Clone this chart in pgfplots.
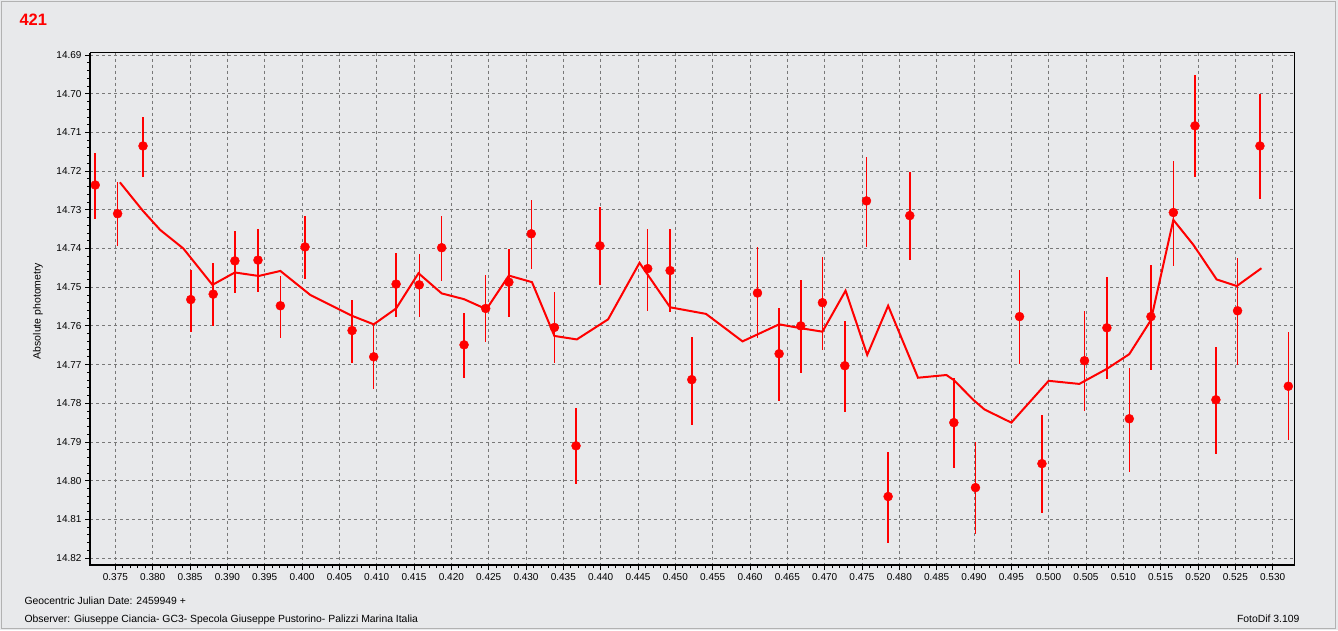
\documentclass[border=0pt]{standalone}
\usepackage{fontspec}
\setmainfont{Liberation Sans}
\usepackage{pgfplots}
\pgfplotsset{compat=1.18}
\usepackage{pgfplotstable}
\definecolor{bg}{RGB}{232,233,235}
\definecolor{gridc}{RGB}{120,120,120}

\pgfplotstableread{
x y ep em
0.3723 14.7236 0.0088 0.0082
0.3753 14.7310 0.0083 0.0082
0.3787 14.7135 0.0080 0.0075
0.3851 14.7532 0.0083 0.0077
0.3881 14.7518 0.0082 0.0080
0.3910 14.7432 0.0082 0.0078
0.3941 14.7430 0.0082 0.0080
0.3971 14.7548 0.0083 0.0077
0.4004 14.7396 0.0083 0.0080
0.4067 14.7612 0.0084 0.0079
0.4096 14.7680 0.0083 0.0085
0.4126 14.7492 0.0084 0.0080
0.4157 14.7494 0.0084 0.0080
0.4187 14.7398 0.0085 0.0082
0.4217 14.7649 0.0086 0.0082
0.4246 14.7555 0.0086 0.0086
0.4277 14.7487 0.0089 0.0086
0.4307 14.7362 0.0092 0.0087
0.4338 14.7604 0.0093 0.0091
0.4367 14.7910 0.0099 0.0097
0.4399 14.7393 0.0102 0.0100
0.4463 14.7452 0.0109 0.0103
0.4493 14.7457 0.0108 0.0108
0.4522 14.7739 0.0116 0.0110
0.4610 14.7515 0.0116 0.0119
0.4639 14.7672 0.0121 0.0118
0.4668 14.7600 0.0121 0.0118
0.4697 14.7540 0.0122 0.0118
0.4727 14.7703 0.0119 0.0115
0.4756 14.7277 0.0118 0.0114
0.4785 14.8041 0.0119 0.0115
0.4814 14.7315 0.0114 0.0113
0.4873 14.7850 0.0116 0.0115
0.4902 14.8018 0.0120 0.0118
0.4961 14.7576 0.0123 0.0121
0.4991 14.7956 0.0127 0.0126
0.5048 14.7690 0.0129 0.0128
0.5078 14.7605 0.0132 0.0131
0.5108 14.7840 0.0137 0.0131
0.5137 14.7576 0.0137 0.0134
0.5167 14.7307 0.0137 0.0134
0.5196 14.7083 0.0131 0.0132
0.5224 14.7791 0.0140 0.0136
0.5253 14.7561 0.0139 0.0136
0.5283 14.7135 0.0136 0.0134
0.5321 14.7756 0.0140 0.0139
}\pts

\pgfplotstableread{
x y
0.3756 14.7229
0.3787 14.7303
0.3810 14.7352
0.3841 14.7400
0.3880 14.7494
0.3910 14.7462
0.3942 14.7471
0.3971 14.7458
0.4011 14.7520
0.4067 14.7574
0.4096 14.7596
0.4126 14.7555
0.4156 14.7464
0.4187 14.7516
0.4217 14.7531
0.4247 14.7557
0.4277 14.7470
0.4308 14.7487
0.4338 14.7626
0.4368 14.7635
0.4410 14.7583
0.4452 14.7437
0.4493 14.7552
0.4541 14.7569
0.4590 14.7640
0.4639 14.7596
0.4668 14.7606
0.4697 14.7615
0.4728 14.7509
0.4757 14.7675
0.4785 14.7548
0.4825 14.7734
0.4863 14.7727
0.4873 14.7740
0.4899 14.7791
0.4914 14.7816
0.4950 14.7850
0.5000 14.7742
0.5041 14.7750
0.5078 14.7711
0.5108 14.7673
0.5137 14.7585
0.5167 14.7326
0.5194 14.7391
0.5225 14.7480
0.5252 14.7497
0.5285 14.7451
}\avg

\begin{document}
\begin{tikzpicture}[x=1pt,y=1pt]
\fill[bg] (0,0) rectangle (1338,630);
\draw[gray!60, line width=1pt] (1.5,1.5) rectangle (1335.5,628.5);
\useasboundingbox (0,0) rectangle (1338,630);
\node[anchor=west, text=red, font=\bfseries\fontsize{16.5}{16.5}\selectfont] at (16,610) {421};
\begin{axis}[
  at={(90pt,65pt)}, anchor=south west,
  scale only axis, width=1204.3pt, height=512.3pt,
  xmin=0.3716, xmax=0.5329, ymin=14.6894, ymax=14.8218, y dir=reverse,
  xtick={0.375,0.38,0.385,0.39,0.395,0.4,0.405,0.41,0.415,0.42,0.425,0.43,0.435,0.44,0.445,0.45,0.455,0.46,0.465,0.47,0.475,0.48,0.485,0.49,0.495,0.5,0.505,0.51,0.515,0.52,0.525,0.53},
  ytick={14.69,14.70,14.71,14.72,14.73,14.74,14.75,14.76,14.77,14.78,14.79,14.80,14.81,14.82},
  minor x tick num=4, minor y tick num=4,
  tick pos=left, tick align=outside,
  major tick length=5pt, minor tick length=3pt,
  every tick/.style={black, line width=0.8pt},
  grid=major, major grid style={gridc, line width=0.9pt, dash pattern=on 3pt off 3pt},
  axis line style={black, line width=1pt},
  axis background/.style={fill=bg},
  /pgf/number format/assume math mode=true,
  x tick label style={/pgf/number format/.cd, fixed, fixed zerofill, precision=3, /tikz/.cd, font=\fontsize{10}{12}\selectfont},
  y tick label style={/pgf/number format/.cd, fixed, fixed zerofill, precision=2, /tikz/.cd, font=\fontsize{10}{12}\selectfont},
  scaled ticks=false,
]
\addplot[red, line width=2pt, no marks] table[x=x, y=y] {\avg};
\addplot[red, only marks, mark=*, mark size=4.5pt,
  error bars/.cd, y dir=both, y explicit,
  error bar style={line width=1.5pt, red}, error mark=none]
  table[x=x, y=y, y error plus=ep, y error minus=em] {\pts};
\end{axis}
\draw[black, line width=2.8pt] (90,577.3) -- (90,65) -- (1294.3,65);
\node[rotate=90, font=\fontsize{10.5}{12}\selectfont] at (38,319) {Absolute photometry};
\node[anchor=base west, font=\fontsize{10.4}{12}\selectfont] at (21,26) {Geocentric Julian Date: 2459949 +};
\node[anchor=base west, font=\fontsize{10.4}{12}\selectfont] at (21,8) {Observer: Giuseppe Ciancia- GC3- Specola Giuseppe Pustorino- Palizzi Marina Italia};
\node[anchor=base east, font=\fontsize{10.4}{12}\selectfont] at (1303,8) {FotoDif 3.109};
\end{tikzpicture}
\end{document}
